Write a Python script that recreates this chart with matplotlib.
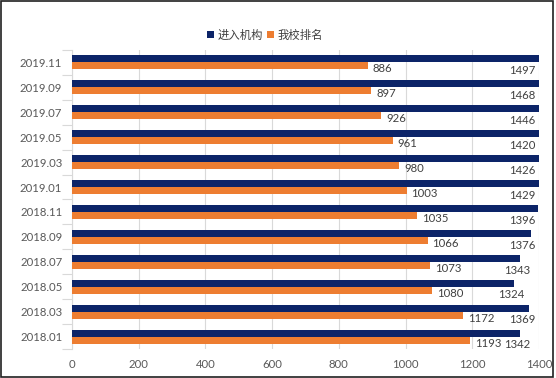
import matplotlib
matplotlib.use("Agg")
import matplotlib.pyplot as plt
from matplotlib.patches import Rectangle
import numpy as np

plt.rcParams['font.family'] = ['Lato', 'Noto Sans CJK SC', 'DejaVu Sans']

categories = ["2018.01", "2018.03", "2018.05", "2018.07", "2018.09", "2018.11",
              "2019.01", "2019.03", "2019.05", "2019.07", "2019.09", "2019.11"]
jinru = [1342, 1369, 1324, 1343, 1376, 1396, 1429, 1426, 1420, 1446, 1468, 1497]
woxiao = [1193, 1172, 1080, 1073, 1066, 1035, 1003, 980, 961, 926, 897, 886]
series_names = ["进入机构", "我校排名"]
xticks = [0, 200, 400, 600, 800, 1000, 1200, 1400]

navy = "#0C2468"
orange = "#ED7D31"
txt = "#404040"

fig = plt.figure(figsize=(5.56, 3.78), dpi=100)
ax = fig.add_axes([72/556, 1-349/378, (539-72)/556, (349-50)/378])

y = np.arange(len(categories))
h = 0.28
ax.barh(y + h/2, jinru, height=h, color=navy, label=series_names[0], zorder=3)
ax.barh(y - h/2, woxiao, height=h, color=orange, label=series_names[1], zorder=3)

ax.set_xlim(0, 1400)
ax.set_ylim(-0.5, len(categories) - 0.5)
ax.set_xticks(xticks)
ax.set_xticklabels([str(t) for t in xticks])
ax.set_yticks(y)
ax.set_yticklabels(categories)
ax.set_yticks(np.arange(-0.5, len(categories), 1), minor=True)
ax.tick_params(axis='y', which='major', length=0, pad=7, labelsize=8.2, labelcolor="#595959")
ax.tick_params(axis='y', which='minor', length=7, color="#d9d9d9", width=0.8)
ax.tick_params(axis='x', length=0, pad=7, labelsize=8.2, labelcolor="#595959")
ax.grid(axis='x', color="#d9d9d9", linewidth=0.8, zorder=0)
for s in ['top', 'right', 'bottom']:
    ax.spines[s].set_visible(False)
ax.spines['left'].set_color("#d9d9d9")
ax.spines['left'].set_linewidth(0.8)

for i in range(len(categories)):
    ax.text(woxiao[i] + 15, y[i] - 0.26, str(woxiao[i]), ha='left', va='center',
            fontsize=8.2, color=txt, zorder=5)
    ax.text(min(jinru[i] + 32, 1388), y[i] - 0.33, str(jinru[i]), ha='right', va='center',
            fontsize=8.2, color=txt, zorder=5, clip_on=False)

leg = fig.legend(loc='center', bbox_to_anchor=(265/556, 1-35/378), ncol=2, frameon=False,
                 handlelength=0.6, handleheight=0.6, handletextpad=0.3,
                 columnspacing=0.4, labelcolor="#404040",
                 prop={'family': ['Noto Sans CJK SC', 'DejaVu Sans'], 'size': 8.2})

fig.patches.append(Rectangle((0.002, 0.003), 0.993, 0.994, transform=fig.transFigure,
                             fill=False, edgecolor="#202020", linewidth=1.2))

fig.savefig("out.png", dpi=100)
